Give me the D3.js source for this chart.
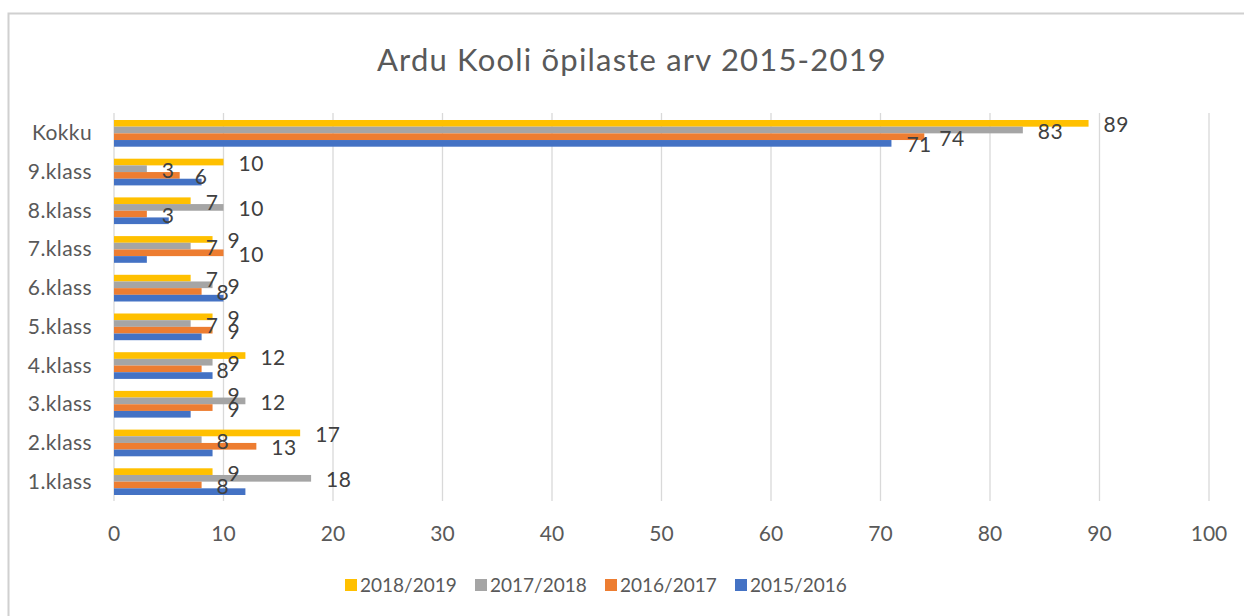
<!DOCTYPE html>
<html>
<head>
<meta charset="utf-8">
<script src="https://cdn.jsdelivr.net/npm/d3@7"></script>
<style>
  body { margin: 0; background: #fff; }
  svg text { font-family: Lato, "Open Sans", sans-serif; }
</style>
</head>
<body>
<div id="chart"></div>
<script>
// categories top to bottom
const categories = ["Kokku", "9.klass", "8.klass", "7.klass", "6.klass", "5.klass", "4.klass", "3.klass", "2.klass", "1.klass"];
const seriesNames = ["2018/2019", "2017/2018", "2016/2017", "2015/2016"];
const seriesColors = ["#FFC000", "#A5A5A5", "#ED7D31", "#4472C4"];

const values2018 = [89, 10, 7, 9, 7, 9, 12, 9, 17, 9];
const values2017 = [83, 3, 10, 7, 9, 7, 9, 12, 8, 18];
const values2016 = [74, 6, 3, 10, 8, 9, 8, 9, 13, 8];
const values2015 = [71, 8, 5, 3, 10, 8, 9, 7, 9, 12];
const seriesValues = [values2018, values2017, values2016, values2015];

// the original shows labels of the last series only on the total row
const labelledLast = ["Kokku"];
const xTicks = [0, 10, 20, 30, 40, 50, 60, 70, 80, 90, 100];

const width = 1244;
const height = 616;

const svg = d3.select("#chart")
  .append("svg")
  .attr("width", width)
  .attr("height", height);

// chart frame
svg.append("rect")
  .attr("x", 8.5)
  .attr("y", 13.5)
  .attr("width", width + 10)
  .attr("height", height + 10)
  .style("fill", "#fff")
  .style("stroke", "#d0d0d0")
  .style("stroke-width", 2);

svg.append("text")
  .attr("x", 632)
  .attr("y", 71)
  .attr("text-anchor", "middle")
  .style("font-size", "31px")
  .style("letter-spacing", "1.2px")
  .style("fill", "#595959")
  .text("Ardu Kooli õpilaste arv 2015-2019");

const x = d3.scaleLinear().domain([0, 100]).range([114, 1209]);
const y = d3.scaleBand()
  .domain(categories)
  .range([114, 501])
  .paddingInner(0.31)
  .paddingOuter(0.155);
const ySub = d3.scaleBand()
  .domain(seriesNames)
  .range([0, y.bandwidth()]);

// gridlines
svg.append("g")
  .selectAll("line")
  .data(xTicks)
  .enter()
  .append("line")
  .attr("x1", (d) => x(d))
  .attr("x2", (d) => x(d))
  .attr("y1", 113)
  .attr("y2", 501)
  .style("stroke", "#d9d9d9")
  .style("stroke-width", 1.3);

// tick labels
svg.append("g")
  .selectAll("text")
  .data(xTicks)
  .enter()
  .append("text")
  .attr("x", (d) => x(d))
  .attr("y", 541)
  .attr("text-anchor", "middle")
  .style("font-size", "21px")
  .style("fill", "#595959")
  .text((d) => d);

// category labels
svg.append("g")
  .selectAll("text")
  .data(categories)
  .enter()
  .append("text")
  .attr("x", 92)
  .attr("y", (d) => y(d) + y.bandwidth() / 2 + 7)
  .attr("text-anchor", "end")
  .style("font-size", "21px")
  .style("letter-spacing", "0.4px")
  .style("fill", "#595959")
  .text((d) => d);

const rows = [];
seriesNames.forEach((s, i) => {
  categories.forEach((c, j) => {
    rows.push({ series: s, color: seriesColors[i], cat: c, value: seriesValues[i][j], idx: i });
  });
});

svg.append("g")
  .selectAll("rect")
  .data(rows)
  .enter()
  .append("rect")
  .attr("x", x(0))
  .attr("y", (d) => y(d.cat) + ySub(d.series))
  .attr("width", (d) => x(d.value) - x(0))
  .attr("height", ySub.bandwidth())
  .style("fill", (d) => d.color);

// data labels
const labelRows = rows.filter((d) => d.idx < 3 || labelledLast.includes(d.cat));
svg.append("g")
  .selectAll("text")
  .data(labelRows)
  .enter()
  .append("text")
  .attr("x", (d) => x(d.value) + 15)
  .attr("y", (d) => y(d.cat) + ySub(d.series) + ySub.bandwidth() / 2 + 9)
  .style("font-size", "21px")
  .style("letter-spacing", "0.5px")
  .style("fill", "#404040")
  .text((d) => d.value);

// legend
const legend = svg.append("g").attr("transform", "translate(345, 585)");
const items = legend.selectAll("g")
  .data(seriesNames)
  .enter()
  .append("g")
  .attr("transform", (d, i) => `translate(${i * 130}, 0)`);
items.append("rect")
  .attr("x", 0)
  .attr("y", -6)
  .attr("width", 12)
  .attr("height", 12)
  .style("fill", (d, i) => seriesColors[i]);
items.append("text")
  .attr("x", 15)
  .attr("y", 7)
  .style("font-size", "19px")
  .style("fill", "#595959")
  .text((d) => d);
</script>
</body>
</html>
